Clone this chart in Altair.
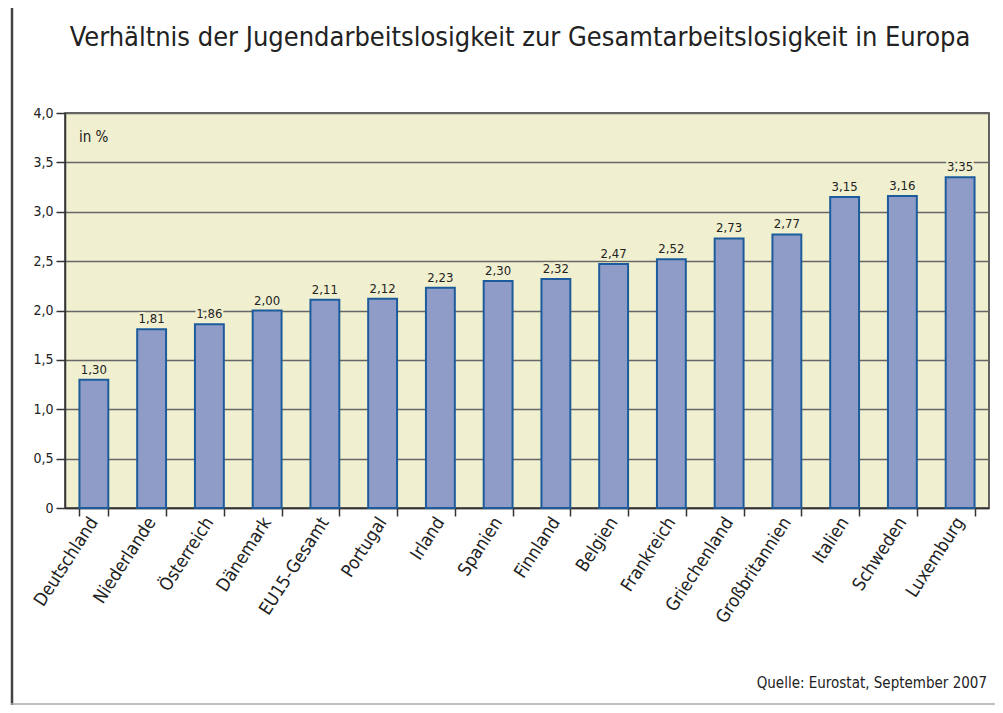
import altair as alt
import pandas as pd

countries = ["Deutschland", "Niederlande", "Österreich", "Dänemark", "EU15-Gesamt",
             "Portugal", "Irland", "Spanien", "Finnland", "Belgien", "Frankreich",
             "Griechenland", "Großbritannien", "Italien", "Schweden", "Luxemburg"]
values = [1.30, 1.81, 1.86, 2.00, 2.11, 2.12, 2.23, 2.30, 2.32, 2.47, 2.52,
          2.73, 2.77, 3.15, 3.16, 3.35]

title_text = "Verhältnis der Jugendarbeitslosigkeit zur Gesamtarbeitslosigkeit in Europa"
unit_text = "in %"
source_text = "Quelle: Eurostat, September 2007"

FONT = "DejaVu Sans Condensed, Liberation Sans Narrow, Open Sans, sans-serif"
BG = "#f0efcf"
W, H = 924, 395

df = pd.DataFrame({"country": countries, "value": values})
base = alt.Chart(df)

x_enc = alt.X("country:N", sort=countries, title=None,
              scale=alt.Scale(paddingInner=0.5, paddingOuter=0.25),
              axis=alt.Axis(labelAngle=-57, labelAlign="right", labelBaseline="middle",
                            labelFontSize=18, labelFont=FONT, labelColor="#222",
                            ticks=True, tickBand="extent", tickSize=8,
                            tickColor="#333", tickWidth=1.5,
                            domainColor="#333", domainWidth=1.5,
                            labelPadding=3))
y_enc = alt.Y("value:Q", title=None,
              scale=alt.Scale(domain=[0, 4]),
              axis=alt.Axis(values=[0, 0.5, 1, 1.5, 2, 2.5, 3, 3.5, 4],
                            labelExpr="datum.value == 0 ? '0' : replace(format(datum.value, '.1f'), '.', ',')",
                            labelFontSize=14, labelFont=FONT, labelColor="#222",
                            tickSize=9, tickColor="#333", tickWidth=1.5,
                            grid=True, gridColor="#666", gridWidth=1.3,
                            domainColor="#333", domainWidth=1.5, labelPadding=3))

one = alt.Data(values=[{"t": title_text, "u": unit_text, "s": source_text}])

bars = base.mark_bar(color="#8f9cc7", stroke="#1d5c9c", strokeWidth=2).encode(
    x=x_enc, y=y_enc)

lbl = "replace(format(datum.value, '.2f'), '.', ',')"
halo = base.transform_calculate(lbl=lbl).mark_text(
    dy=-10, fontSize=13, font=FONT, color=BG, stroke=BG, strokeWidth=4).encode(
    x=alt.X("country:N", sort=countries), y="value:Q", text="lbl:N")
labels = base.transform_calculate(lbl=lbl).mark_text(
    dy=-10, fontSize=13, font=FONT, color="#222").encode(
    x=alt.X("country:N", sort=countries), y="value:Q", text="lbl:N")

frame_left = alt.Chart(one).mark_rule(color="#444", strokeWidth=2.5).encode(
    x=alt.value(-53), y=alt.value(-109), y2=alt.value(592))
frame_top = alt.Chart(one).mark_rule(color="#555", strokeWidth=2).encode(
    x=alt.value(-54), x2=alt.value(960), y=alt.value(-108))
frame_bottom = alt.Chart(one).mark_rule(color="#aaa", strokeWidth=1.5).encode(
    x=alt.value(-54), x2=alt.value(960), y=alt.value(591))
title = alt.Chart(one).mark_text(fontSize=27, font=FONT, color="#222",
                                 align="center", baseline="alphabetic").encode(
    x=alt.value(455), y=alt.value(-67), text="t:N")
unit = alt.Chart(one).mark_text(fontSize=15, font=FONT, color="#222",
                                align="left", baseline="middle").encode(
    x=alt.value(14), y=alt.value(24), text="u:N")
source = alt.Chart(one).mark_text(fontSize=15, font=FONT, color="#222",
                                  align="right", baseline="alphabetic").encode(
    x=alt.value(922), y=alt.value(575), text="s:N")

chart = alt.layer(frame_left, frame_top, frame_bottom, title, bars,
                  halo, labels, unit, source).properties(
    width=W, height=H,
    padding={"left": 57, "top": 105, "right": 6, "bottom": 197},
    autosize=alt.AutoSizeParams(type="none"),
).configure(background="white").configure_view(fill=BG, stroke="#333", strokeWidth=1.5)

chart.save("out.html", embed_options={"renderer": "svg", "actions": False})
